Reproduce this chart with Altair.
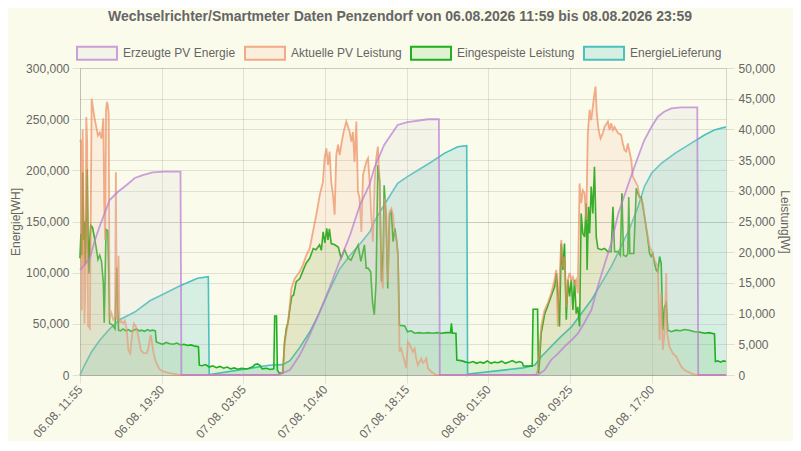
import altair as alt
import pandas as pd

FONT = "Liberation Sans"
TITLE = "Wechselrichter/Smartmeter Daten Penzendorf von 06.08.2026 11:59 bis 08.08.2026 23:59"
SERIES = ["Erzeugte PV Energie", "Aktuelle PV Leistung", "Eingespeiste Leistung", "EnergieLieferung"]
STROKES = ["rgba(185,125,212,0.72)", "rgba(236,140,95,0.7)", "rgb(30,176,30)", "rgb(75,192,192)"]
FILLS = ["rgba(215,215,215,0.2)", "rgba(247,165,120,0.13)", "rgba(34,180,34,0.12)", "rgba(75,192,192,0.2)"]

START = "2026-08-06 11:55"
END_MIN = 3600
X_TICK_MIN = [0, 455, 910, 1365, 1820, 2275, 2730, 3185]
LEFT_TICKS = [0, 50000, 100000, 150000, 200000, 250000, 300000]
RIGHT_TICKS = [0, 5000, 10000, 15000, 20000, 25000, 30000, 35000, 40000, 45000, 50000]

# minutes after START, values
EPV_T = [0, 25, 55, 80, 110, 140, 165, 210, 260, 305, 350, 405, 470, 560, 565,
         1100, 1170, 1225, 1280, 1335, 1390, 1445, 1505, 1560, 1615, 1640, 1695, 1770, 1825, 1940, 2000, 2005,
         2550, 2590, 2625, 2665, 2700, 2740, 2775, 2810, 2850, 2885, 2925, 2960, 3000, 3035, 3070, 3110,
         3145, 3185, 3220, 3255, 3295, 3350, 3440, 3445, 3600]
EPV_V = [102600, 107500, 114300, 130000, 145600, 159300, 171000, 178800, 185700, 192500, 195400, 198000, 198800, 198800, 0,
         0, 4900, 19500, 39000, 61500, 85000, 110400, 136800, 166100, 186600, 202300, 224800, 244300, 247200, 249900, 249900, 0,
         0, 4900, 14700, 21200, 27700, 34200, 40700, 50800, 63500, 86300, 109100, 128700, 158000, 175900, 193800, 213300,
         229600, 242600, 252400, 257300, 260600, 261600, 261600, 0, 0]

LIEF_T = [0, 25, 65, 110, 165, 220, 305, 390, 480, 555, 655, 715, 720, 725, 1055, 1130,
          1170, 1225, 1280, 1335, 1390, 1445, 1505, 1560, 1615, 1640, 1695, 1770, 1825, 1885, 1960, 2030, 2105, 2155,
          2160, 2165, 2470, 2535, 2570, 2625, 2680, 2740, 2795, 2850, 2905, 2960, 3015, 3035, 3060, 3110,
          3145, 3185, 3240, 3315, 3405, 3480, 3535, 3590, 3600]
LIEF_V = [0, 9500, 22800, 34000, 45000, 54000, 61500, 72500, 80400, 87000, 94500, 96100, 0, 500, 9500, 10100,
          14000, 27000, 42000, 61000, 83000, 103000, 117000, 128000, 140000, 149800, 166100, 187300, 193800, 200300, 208400, 216600, 223100, 224100,
          0, 1000, 7000, 9800, 17900, 27700, 37500, 47300, 60300, 73300, 89600, 105900, 125400, 133000, 141700, 164500,
          184000, 197100, 206900, 216600, 226400, 234500, 239400, 242000, 242200]

EIN_T = [0, 5, 10, 15, 20, 25, 30, 40, 45, 50, 55, 60, 70, 80, 90, 100, 110, 120, 130, 135, 140, 145, 155, 160, 165,
         180, 195, 205, 210, 215, 225, 240, 255, 270, 285, 300, 315, 330, 345, 360, 375, 390, 405, 420, 425,
         440, 460, 480, 500, 520, 540, 560, 580, 600, 620, 640, 660, 665,
         680, 700, 720, 740, 760, 780, 800, 820, 840, 860, 880, 900, 920, 940, 965, 975, 990, 1005, 1015, 1040, 1060, 1080,
         1085, 1095, 1100, 1110, 1130, 1140, 1150, 1160, 1170, 1180, 1190, 1205, 1225, 1240, 1260, 1280, 1300, 1315, 1335,
         1345, 1355, 1365, 1375, 1382, 1390, 1400, 1420, 1440, 1455, 1475, 1495, 1510, 1530, 1550, 1565, 1585, 1595, 1605,
         1620, 1630, 1640, 1650, 1660, 1670, 1680, 1690, 1695, 1705, 1715, 1725, 1735, 1745, 1755, 1765, 1772, 1780, 1810,
         1825, 1845, 1865, 1890, 1915, 1940, 1965, 1990, 2015, 2040, 2065, 2070, 2075, 2095, 2100, 2130, 2150, 2170, 2190,
         2210, 2230, 2250, 2270, 2290, 2310, 2330, 2350, 2370, 2390, 2410, 2430, 2450, 2465, 2470, 2490, 2520, 2525, 2550,
         2555, 2560, 2570, 2590, 2605, 2625, 2645, 2655, 2663, 2672, 2682, 2691, 2700, 2710, 2719, 2728, 2738, 2747, 2756,
         2765, 2774, 2784, 2793, 2802, 2812, 2821, 2826, 2834, 2840, 2849, 2858, 2867, 2877, 2886, 2905, 2923, 2942, 2960,
         2970, 2979, 2998, 3011, 3020, 3029, 3044, 3053, 3058, 3064, 3086, 3100, 3109, 3118, 3128, 3146, 3165, 3174, 3183,
         3192, 3202, 3211, 3220, 3230, 3239, 3248, 3257, 3267, 3276, 3295, 3320, 3345, 3370, 3395, 3425, 3450, 3480, 3505,
         3536, 3541, 3555, 3570, 3585, 3600]
EIN_V = [19000, 23000, 19500, 33000, 22000, 25000, 18000, 33500, 22000, 16500, 22000, 24400, 24000, 22500, 20800, 18800, 19500, 18500, 15000, 8500, 16000, 23700, 23500, 17000, 8400,
         8200, 7500, 17500, 11000, 7300, 7200, 7500, 7200, 7400, 7100, 7300, 7500, 7200, 7300, 7100, 7400, 7200, 7300, 7200, 5400,
         5200, 5000, 5300, 5100, 5000, 5200, 4900, 5000, 4800, 4900, 4700, 4600, 1600,
         1500, 1700, 1300, 1500, 1200, 1400, 1100, 1300, 1000, 1150, 950, 1100, 1000, 1050, 1400, 1700, 1800, 1500, 1000, 1100, 900, 1000,
         9600, 9600, 800, 300, 300, 5400, 7600, 8700, 10900, 12800, 13000, 15200, 15700, 16800, 18200, 19000, 20600, 20400, 21200,
         20300, 23300, 21500, 23900, 22000, 23800, 21400, 21200, 20800, 19000, 20400, 19000, 18700, 20000, 21200, 18500, 21200, 17400, 17400,
         16800, 11900, 9800, 15200, 34200, 31500, 15200, 20600, 30900, 26100, 14100, 26100, 26600, 21700, 23900, 21700, 19500, 8100, 8000,
         7050, 7200, 6800, 6900, 6800, 6900, 6800, 6900, 6800, 6900, 6900, 8400, 6800, 6800, 2450, 2300, 2100, 2000, 2200,
         1900, 2100, 1950, 2300, 1900, 2100, 2000, 2250, 1900, 2100, 2350, 2000, 2200, 2000, 1500, 1450, 1450, 10700, 10700,
         300, 1900, 6800, 10000, 11100, 12800, 14400, 16600, 13300, 7900, 21400, 17100, 21400, 9000, 15500, 12800, 15500, 10600, 15500,
         10000, 11100, 7900, 26300, 23100, 22500, 28000, 17100, 27400, 23100, 30700, 26300, 33900, 22500, 20600, 20400, 20600, 20100, 20100,
         27400, 20100, 20100, 19500, 29600, 19500, 19300, 19800, 29000, 19800, 19800, 30400, 29600, 29000, 29000, 25800, 22000, 19800, 19300,
         19800, 18200, 17100, 16800, 19300, 18200, 7300, 11100, 11700, 7300, 7050, 7300, 7200, 7400, 7300, 7050, 7000, 6800, 6900,
         6700, 2200, 2300, 2100, 2300, 2200]

PV_T = [0, 5, 10, 15, 20, 25, 30, 35, 40, 45, 55, 65, 70, 80, 90, 100, 110, 120, 130, 135, 140, 145, 150, 155, 160, 165,
        175, 185, 195, 200, 205, 215, 220, 230, 240, 250, 260, 270, 280, 290, 300, 310, 320, 330, 340, 355, 370, 380, 390,
        395, 400, 410, 420, 430, 445, 470, 500, 540, 560,
        1113, 1131, 1140, 1150, 1159, 1168, 1178, 1196, 1224, 1242, 1261, 1280, 1298, 1317, 1336, 1354, 1363, 1373, 1382,
        1391, 1400, 1410, 1419, 1428, 1438, 1447, 1456, 1469, 1484, 1503, 1512, 1521, 1530, 1540, 1549, 1558, 1568, 1577,
        1595, 1605, 1614, 1623, 1632, 1642, 1651, 1660, 1670, 1679, 1688, 1697, 1707, 1716, 1725, 1735, 1744, 1753, 1763,
        1772, 1781, 1790, 1809, 1818, 1827, 1837, 1855, 1865, 1874, 1883, 1902, 1911, 1920, 1930, 1939, 1958, 1986,
        2540, 2552, 2570, 2589, 2607, 2626, 2645, 2654, 2663, 2672, 2682, 2691, 2700, 2710, 2719, 2728, 2738, 2747, 2756,
        2765, 2774, 2784, 2793, 2802, 2812, 2821, 2830, 2840, 2849, 2858, 2867, 2873, 2880, 2890, 2901, 2914, 2923, 2942,
        2951, 2960, 2970, 2979, 2998, 3016, 3025, 3035, 3044, 3053, 3062, 3072, 3081, 3090, 3109, 3118, 3137, 3146, 3155,
        3165, 3174, 3183, 3202, 3220, 3230, 3239, 3248, 3257, 3267, 3272, 3285, 3304, 3323, 3350, 3369, 3406, 3434, 3600]
PV_V = [38000, 38300, 10500, 40000, 26000, 8400, 15000, 42000, 38000, 8000, 7600, 45000, 44000, 42000, 40500, 39000, 39500, 38500, 41800, 28000, 22000, 43000, 44500, 44000, 42500, 9200,
        10100, 9000, 9500, 33000, 9000, 19400, 8500, 8800, 8400, 8900, 7500, 4000, 3500, 6500, 8400, 8000, 7000, 5500, 4000, 3600, 3500, 4200, 6000,
        6500, 5500, 3600, 2400, 1700, 900, 500, 300, 100, 0,
        0, 500, 5000, 7000, 8500, 11000, 14100, 15700, 16800, 17900, 19500, 20600, 23300, 26100, 29300, 31500, 35300, 36900, 34200,
        36400, 31500, 29300, 26100, 35800, 37500, 35800, 37500, 39600, 41300, 39600, 38000, 39600, 34700, 41300, 29900, 28800, 23300, 32600,
        34700, 35300, 31500, 26100, 21700, 31500, 35300, 37200, 31500, 16300, 14100, 28800, 26100, 15200, 26600, 27100, 26100, 23300, 22300,
        19500, 3800, 4300, 2200, 1100, 5400, 5000, 3800, 4300, 2700, 1600, 2700, 2000, 2200, 2700, 1100, 540, 0,
        0, 800, 7900, 10600, 11700, 13300, 15500, 17100, 7900, 15500, 22000, 17600, 19300, 11100, 15500, 16600, 15500, 16000, 14900,
        15500, 13300, 31200, 28000, 30100, 29600, 25200, 39400, 43200, 41500, 43700, 45900, 47000, 42600, 39900, 38500, 39400, 40400, 41300,
        39900, 41000, 39900, 40400, 39400, 39100, 37700, 36600, 36400, 37700, 36400, 35000, 32300, 31800, 30700, 29000, 28000, 25800, 24200,
        22500, 20900, 20400, 18700, 17600, 5700, 13300, 4100, 6800, 16600, 6800, 4600, 3500, 3000, 1400, 800, 270, 0, 0]

base = pd.Timestamp(START)


def iso(m):
    return (base + pd.Timedelta(minutes=m)).strftime("%Y-%m-%dT%H:%M:%SZ")


def dt(m):
    d = base + pd.Timedelta(minutes=m)
    return alt.DateTime(year=d.year, month=d.month, date=d.day, hours=d.hour, minutes=d.minute, utc=True)


def frame(ts, vs, name):
    return pd.DataFrame({"time": [iso(t) for t in ts], "value": vs, "series": name})


df_epv = frame(EPV_T, EPV_V, SERIES[0])
df_pv = frame(PV_T, PV_V, SERIES[1])
df_ein = frame(EIN_T, EIN_V, SERIES[2])
df_lief = frame(LIEF_T, LIEF_V, SERIES[3])

x_enc = alt.X(
    "time:T",
    scale=alt.Scale(type="utc", domain=[dt(0), dt(END_MIN)]),
    axis=alt.Axis(values=[dt(m) for m in X_TICK_MIN], format="%d.%m. %H:%M", labelAngle=-47,
                  labelAlign="right", labelBaseline="middle", labelPadding=4, title=None,
                  grid=True, tickSize=8, labelOverlap=False, labelBound=False, labelFlush=False),
)

LEG = alt.Legend(title=None, orient="none", legendX=-4, legendY=-36, direction="horizontal",
                 symbolType="M-1,-0.325H1V0.325H-1Z", symbolSize=1600, symbolStrokeWidth=2,
                 labelFontSize=12, labelColor="#666", labelFont=FONT, columnPadding=5, labelOffset=5)

fill_enc = alt.Fill("series:N", scale=alt.Scale(domain=SERIES, range=FILLS), legend=LEG)
stroke_enc = alt.Stroke("series:N", scale=alt.Scale(domain=SERIES, range=STROKES), legend=LEG)

left_dom = [0, 300000]
right_dom = [0, 50000]
left_axis = alt.Axis(orient="left", values=LEFT_TICKS, format=",d", title="Energie[WH]", grid=True,
                     tickSize=8, labelPadding=3, titlePadding=3)
right_axis = alt.Axis(orient="right", values=RIGHT_TICKS, format=",d", title="Leistung[W]", grid=True,
                      tickSize=8, labelPadding=4, titlePadding=3)


def area(df, dom, axis):
    return alt.Chart(df).mark_area(interpolate="linear").encode(
        x=x_enc,
        y=alt.Y("value:Q", scale=alt.Scale(domain=dom, nice=False, zero=True), axis=axis),
        fill=fill_enc,
    )


def line(df, dom, w):
    return alt.Chart(df).mark_line(interpolate="linear", strokeWidth=w).encode(
        x=x_enc,
        y=alt.Y("value:Q", scale=alt.Scale(domain=dom, nice=False, zero=True), axis=None),
        stroke=stroke_enc,
    )


layers = [
    area(df_lief, left_dom, None), line(df_lief, left_dom, 1.6),
    area(df_ein, right_dom, right_axis), line(df_ein, right_dom, 1.6),
    area(df_pv, right_dom, None), line(df_pv, right_dom, 1.8),
    area(df_epv, left_dom, left_axis), line(df_epv, left_dom, 1.8),
]

chart = alt.layer(*layers).resolve_scale(y="independent").properties(
    width=646,
    height=307,
    padding={"left": 72, "top": 60, "right": 67, "bottom": 66},
    autosize=alt.AutoSizeParams(type="none"),
    background="#fbfbeb",
    title=alt.TitleParams(TITLE, fontSize=14, fontWeight="bold", color="#666", font=FONT,
                          anchor="middle", offset=8, dx=-3),
).configure_view(stroke=None).configure_axis(
    labelFont=FONT, labelFontSize=12, labelColor="#666",
    titleFont=FONT, titleFontSize=12, titleColor="#666", titleFontWeight="normal",
    gridColor="#000", gridOpacity=0.1, tickColor="#000", tickOpacity=0.1,
    domainColor="#000", domainOpacity=0.15,
)

chart.save("out.html", embed_options={"renderer": "svg", "actions": False})
